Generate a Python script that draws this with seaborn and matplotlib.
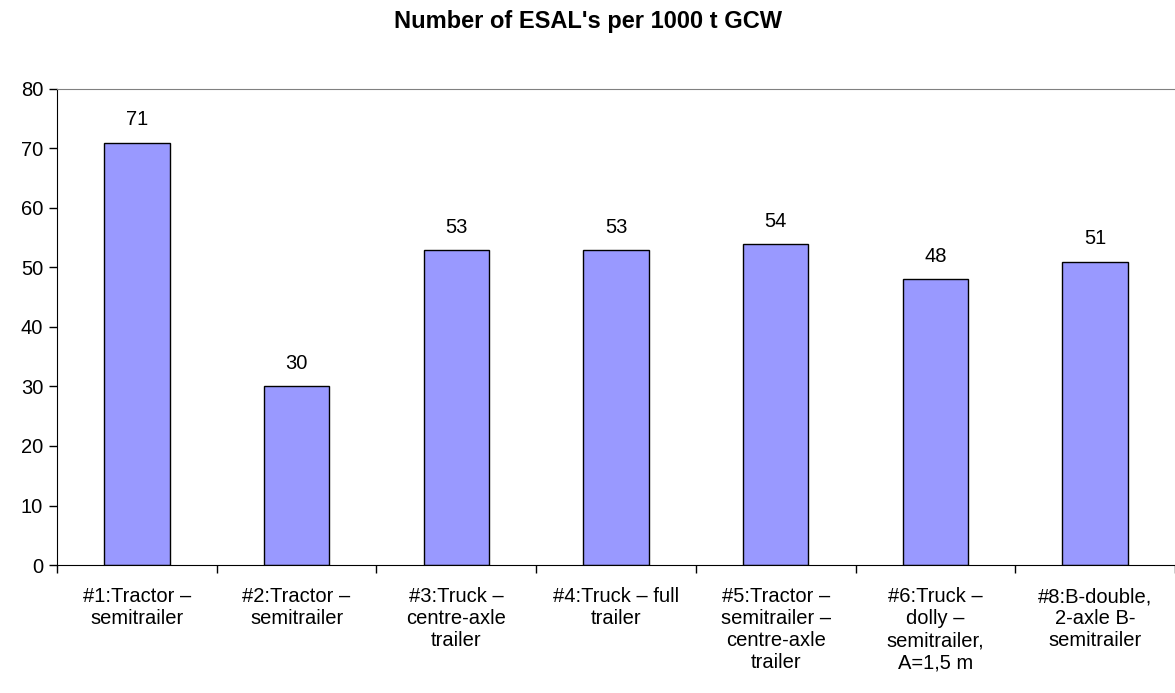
import numpy as np
import pandas as pd
import seaborn as sns
import matplotlib.pyplot as plt

# Dữ liệu của biểu đồ
categories = [
    "#1:Tractor –\nsemitrailer",
    "#2:Tractor –\nsemitrailer",
    "#3:Truck –\ncentre-axle\ntrailer",
    "#4:Truck – full\ntrailer",
    "#5:Tractor –\nsemitrailer –\ncentre-axle\ntrailer",
    "#6:Truck –\ndolly –\nsemitrailer,\nA=1,5 m",
    "#8:B-double,\n2-axle B-\nsemitrailer",
]
esal_values = [71, 30, 53, 53, 54, 48, 51]
y_ticks = [0, 10, 20, 30, 40, 50, 60, 70, 80]

sns.set_style("white")
plt.rcParams['font.family'] = ['Liberation Sans', 'DejaVu Sans']
plt.rcParams['text.color'] = 'black'
plt.rcParams['xtick.color'] = 'black'
plt.rcParams['ytick.color'] = 'black'

df = pd.DataFrame({"category": categories, "esal": esal_values})

fig = plt.figure(figsize=(11.75, 6.93), dpi=100)
ax = fig.add_axes([0.0485, 0.1847, 0.9515, 0.6869])

sns.barplot(data=df, x="category", y="esal", color="#9999FF", saturation=1,
            edgecolor="black", linewidth=1, width=0.41, ax=ax)

# Nhãn giá trị trên mỗi cột
for i, v in enumerate(esal_values):
    ax.text(i, v + 2.2, str(v), ha="center", va="bottom", fontsize=14.5, color="black")

ax.set_ylim(0, 80)
ax.set_xlim(-0.5, len(categories) - 0.5)
ax.set_yticks(y_ticks)
ax.tick_params(axis="y", labelsize=14.5, length=6, width=1, direction="out", left=True, pad=4)

# Nhãn trục X nằm giữa, vạch chia nằm giữa các nhóm
ax.set_xticks(np.arange(len(categories)))
ax.set_xticklabels(categories, fontsize=14.5, linespacing=1.2, va="top")
ax.set_xticks(np.arange(len(categories) + 1) - 0.5, minor=True)
ax.tick_params(axis="x", which="major", length=0, pad=16)
ax.tick_params(axis="x", which="minor", length=6, width=1, direction="out", bottom=True)

ax.set_xlabel("")
ax.set_ylabel("")

ax.spines["right"].set_visible(False)
ax.spines["top"].set_color("#808080")
ax.spines["left"].set_color("black")
ax.spines["bottom"].set_color("black")

fig.suptitle("Number of ESAL's per 1000 t GCW", fontsize=17, fontweight="bold", y=0.985)

plt.savefig("out.png", dpi=100)
